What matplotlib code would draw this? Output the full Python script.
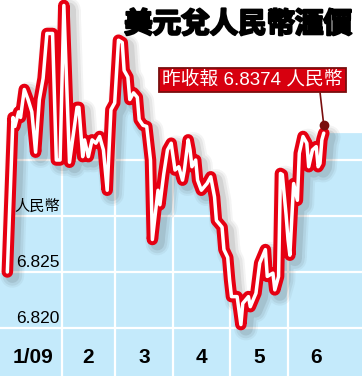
import matplotlib
matplotlib.use('Agg')
import matplotlib.pyplot as plt
import matplotlib.patheffects as pe
from matplotlib.transforms import offset_copy

# day of year 2009 (0 = Jan 1) and USD/CNY rate
days = [2, 5, 6, 8, 9, 11, 13, 15, 17, 19, 21, 23, 26, 28, 30,
        32, 35, 39, 40, 42, 43, 45, 47, 49, 51, 53, 55, 57, 59, 61,
        63, 64, 66, 67, 69, 71, 72, 74, 76, 78, 79, 82, 83, 85, 87,
        89, 91, 93, 95, 96, 98, 99, 100, 102, 103, 105, 108, 110, 112, 113,
        116, 117, 119, 120, 121, 124, 126, 127, 130, 131, 134, 136, 139, 140, 143,
        144, 146, 147, 148, 150, 151, 152, 154, 156, 157, 159, 161, 162, 164, 166,
        167, 168, 169, 170]
rates = [6.8250, 6.8388, 6.8380, 6.8393, 6.8388, 6.8413, 6.8404, 6.8393, 6.8357, 6.8404,
         6.8423, 6.8463, 6.8463, 6.8350, 6.8350,
         6.8488, 6.8348, 6.8397, 6.8397, 6.8353, 6.8368, 6.8353, 6.8368, 6.8365, 6.8371,
         6.8359, 6.8323, 6.8395, 6.8401, 6.8457,
         6.8455, 6.8430, 6.8424, 6.8404, 6.8410, 6.8406, 6.8386, 6.8381, 6.8380, 6.8350,
         6.8279, 6.8323, 6.8310, 6.8337, 6.8359,
         6.8365, 6.8341, 6.8344, 6.8332, 6.8341, 6.8368, 6.8359, 6.8344, 6.8350, 6.8332,
         6.8323, 6.8329, 6.8335, 6.8317, 6.8296,
         6.8290, 6.8270, 6.8263, 6.8243, 6.8228, 6.8228, 6.8203, 6.8222, 6.8228, 6.8219,
         6.8231, 6.8258, 6.8270, 6.8246, 6.8249,
         6.8234, 6.8246, 6.8338, 6.8337, 6.8301, 6.8279, 6.8265, 6.8329, 6.8314, 6.8356,
         6.8371, 6.8365, 6.8344, 6.8359, 6.8362,
         6.8344, 6.8347, 6.8368, 6.8374]

month_starts = [31, 59, 90, 120, 151]
month_mids = [15.5, 45, 74.5, 105, 135.5, 166]
month_labels = ['1/09', '2', '3', '4', '5', '6']
grid_values = [6.820, 6.825, 6.830, 6.835]
ylabel_values = [6.820, 6.825, 6.830]
ylabel_texts = ['6.820', '6.825', '人民幣']
title = '美元兌人民幣滙價'
last_note = '昨收報 6.8374 人民幣'

BLUE = '#C4EAFB'
RED = '#E60012'
DARK = '#7A0E0E'
FONTS = ['Liberation Sans', 'Noto Sans CJK TC', 'DejaVu Sans']
plt.rcParams['font.family'] = FONTS

fig = plt.figure(figsize=(3.62, 3.76), dpi=100)
ax = fig.add_axes([0, 0, 1, 1])
x0, x1 = -1.9, 190.3
y0, y1 = 6.81571, 6.84929
ax.set_xlim(x0, x1)
ax.set_ylim(y0, y1)
ax.axis('off')

# blue area under the curve, carried flat to the edges
ax.fill_between([x0] + days + [x1], [rates[0]] + rates + [rates[-1]], y0,
                color=BLUE, lw=0, zorder=1)

for m in month_starts:
    ax.axvline(m, color='white', lw=1.6, zorder=2)
for g in grid_values:
    ax.axhline(g, color='white', lw=1.6, zorder=2)

# soft drop shadow
shadow_tr = offset_copy(ax.transData, fig=fig, x=5, y=-4, units='dots')
for lw, a in [(17, 0.05), (14, 0.07), (10, 0.10)]:
    ax.plot(days, rates, color='#303030', lw=lw, alpha=a, transform=shadow_tr,
            solid_joinstyle='round', solid_capstyle='round', zorder=3)

ax.plot(days, rates, color=RED, lw=8.3, solid_joinstyle='round',
        solid_capstyle='round', zorder=4)
ax.plot(days, rates, color='white', lw=2.5, solid_joinstyle='round',
        solid_capstyle='round', zorder=5)

for v, t in zip(ylabel_values, ylabel_texts):
    size = 11 if t == '人民幣' else 12.5
    ax.annotate(t, xy=(month_starts[0], v), xytext=(-1.5, 3.4),
                textcoords='offset points', ha='right', va='baseline',
                fontsize=size, color='black', zorder=6)

for x, t in zip(month_mids, month_labels):
    ax.text(x, 0.05, t, transform=ax.get_xaxis_transform(), ha='center',
            va='center', fontsize=15, fontweight='bold', color='black', zorder=6)

ax.text(0.973, 0.935, title, transform=ax.transAxes, ha='right', va='center',
        fontsize=20.5, fontweight='bold', color='black',
        family=['Noto Sans CJK TC', 'DejaVu Sans'],
        path_effects=[pe.withStroke(linewidth=1.6, foreground='black')], zorder=7)

# last close marker and note
dot_tr = offset_copy(ax.transData, fig=fig, x=0, y=8, units='dots')
ax.plot([days[-1]], [rates[-1]], 'o', color=DARK, ms=6, transform=dot_tr, zorder=7)
ax.annotate(last_note, xy=(days[-1], rates[-1]), xycoords=dot_tr,
            xytext=(0.697, 0.787), textcoords='axes fraction',
            ha='center', va='center', fontsize=13.5, color='white',
            bbox=dict(boxstyle='square,pad=0.18', fc='#D7000F', ec=DARK, lw=1.3),
            arrowprops=dict(arrowstyle='-', color=DARK, lw=1.2, relpos=(0.873, 0),
                            shrinkA=0, shrinkB=0),
            zorder=7)

fig.savefig('out.png', dpi=100)
